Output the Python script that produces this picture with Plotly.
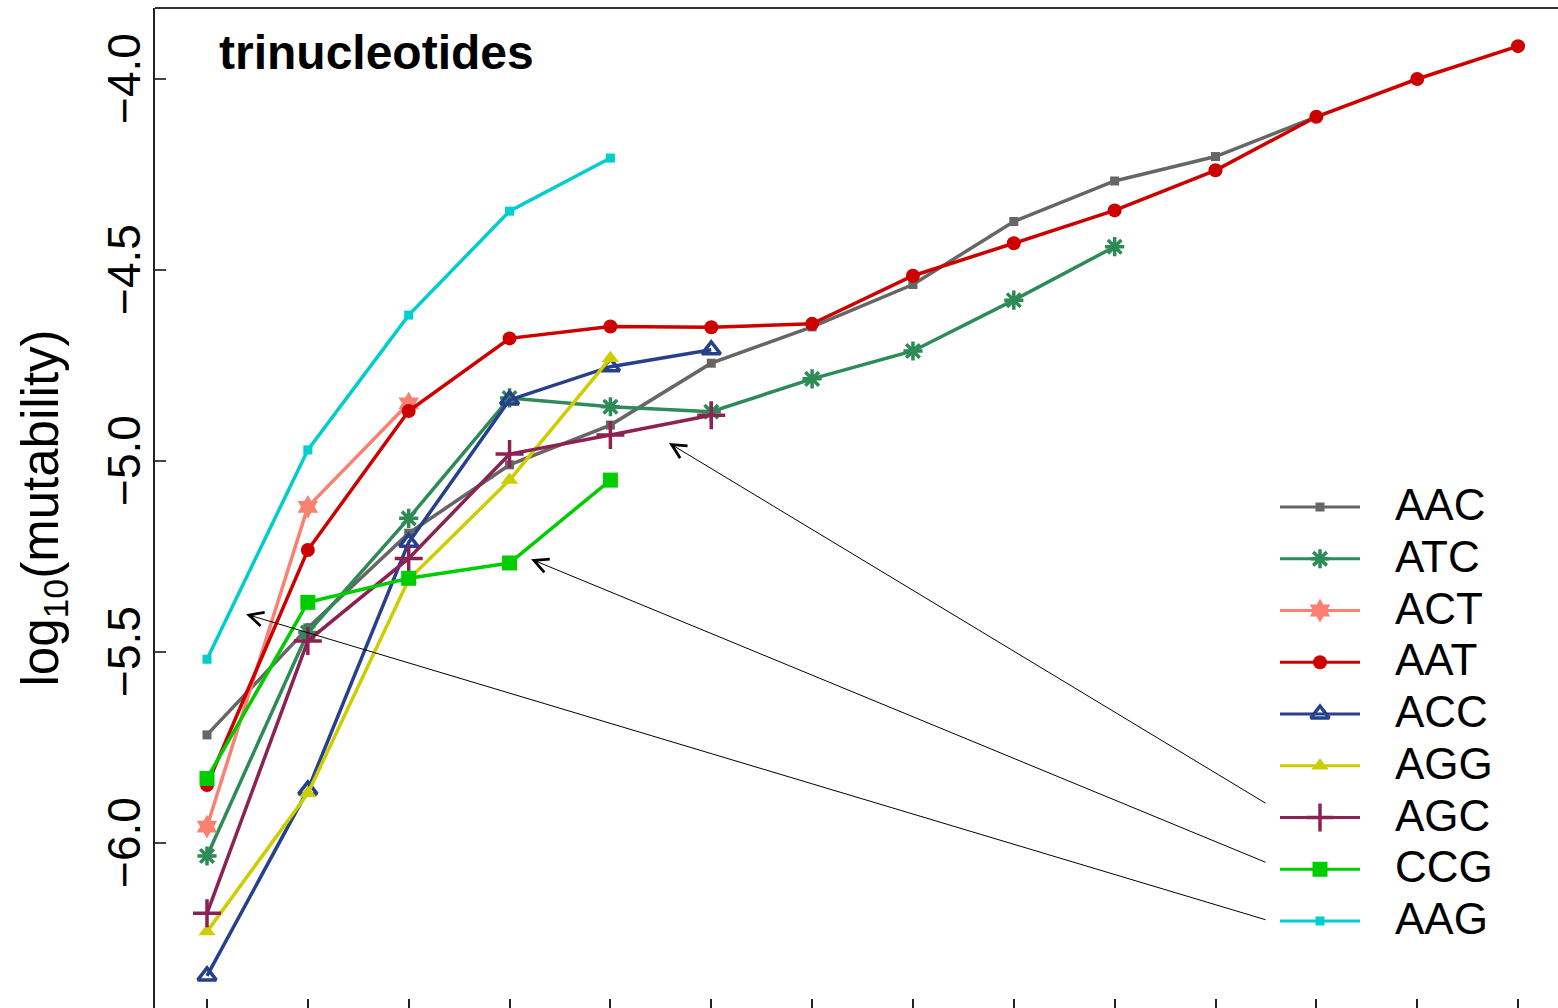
import plotly.graph_objects as go

# ---------------- data ----------------
names = ["AAC", "ATC", "ACT", "AAT", "ACC", "AGG", "AGC", "CCG", "AAG"]

AAC = [-5.717, -5.437, -5.189, -5.010, -4.906, -4.744, -4.649, -4.538, -4.373, -4.267, -4.203, -4.099]
ATC = [-6.034, -5.449, -5.150, -4.835, -4.858, -4.871, -4.785, -4.712, -4.579, -4.439]
ACT = [-5.957, -5.120, -4.849]
AAT = [-5.848, -5.233, -4.869, -4.679, -4.648, -4.650, -4.641, -4.515, -4.430, -4.344,
       -4.239, -4.099, -4.000, -3.914]
ACC = [-6.348, -5.861, -5.213, -4.840, -4.753, -4.709]
AGG = [-6.232, -5.870, -5.310, -5.050, -4.731]
AGC = [-6.184, -5.471, -5.255, -4.982, -4.932, -4.880]
CCG = [-5.831, -5.370, -5.307, -5.267, -5.050]
AAG = [-5.519, -4.971, -4.618, -4.346, -4.207]

series = [AAC, ATC, ACT, AAT, ACC, AGG, AGC, CCG, AAG]

y_ticks = [-6.0, -5.5, -5.0, -4.5, -4.0]
y_tick_labels = ["\u22126.0", "\u22125.5", "\u22125.0", "\u22124.5", "\u22124.0"]
x_ticks = list(range(1, 15))

# arrows: (head_x, head_y, tail_x, tail_y) in data units
arrows = [
    (5.581, -4.953, 11.511, -5.898),
    (4.213, -5.257, 11.511, -6.052),
    (1.387, -5.401, 11.511, -6.202),
]

# ---------------- styles ----------------
colors = ["#666666", "#2E8B57", "#FA8072", "#CD0000", "#27408B",
          "#CDCD00", "#8B2252", "#00CD00", "#00CDCD"]
symbols = ["square", "asterisk-open", "hexagram", "circle", "triangle-up-open",
           "triangle-up", "cross-thin-open", "square", "square"]
sizes = [9, 16, 18, 14, 16, 15, 20, 15, 9]
FONT = "Liberation Sans, Arial, Helvetica, sans-serif"
LW = 3.5

W, H = 1558, 1008
ML, MT = 155, 8

fig = go.Figure()

for name, vals, c, sym, sz in zip(names, series, colors, symbols, sizes):
    fig.add_trace(go.Scatter(
        x=list(range(1, len(vals) + 1)), y=vals, name=name,
        mode="lines+markers",
        line=dict(color=c, width=LW),
        marker=dict(symbol=sym, size=sz, color=c,
                    line=dict(color=c, width=3.5 if "open" in sym else 0)),
        showlegend=False,
    ))

# ---------------- manual legend (overlay pixel axes) ----------------
leg_y0, leg_dy = 507, 51.75
rows = [leg_y0 + i * leg_dy for i in range(len(names))]
for name, r, c, sym, sz in zip(names, rows, colors, symbols, sizes):
    fig.add_trace(go.Scatter(
        x=[1280, 1320, 1360], y=[r, r, r], xaxis="x2", yaxis="y2",
        mode="lines+markers", line=dict(color=c, width=3),
        marker=dict(symbol=sym, size=sz, color=c, opacity=[0, 1, 0],
                    line=dict(color=c, width=3.5 if "open" in sym else 0)),
        showlegend=False, hoverinfo="skip",
    ))
fig.add_trace(go.Scatter(
    x=[1395] * len(names), y=[r + 2 for r in rows], xaxis="x2", yaxis="y2",
    mode="text", text=names, textposition="middle right",
    textfont=dict(family=FONT, size=44, color="black"),
    showlegend=False, hoverinfo="skip",
))

# ---------------- arrows ----------------
for hx, hy, tx, ty in arrows:
    fig.add_annotation(
        x=hx, y=hy, ax=tx, ay=ty, xref="x", yref="y", axref="x", ayref="y",
        text="", showarrow=True, arrowhead=5, arrowsize=2.8, arrowwidth=1,
        arrowcolor="black", standoff=0,
    )

# title inside plot
fig.add_annotation(
    x=(217 - ML) / (W - ML), y=1 - (52 - MT) / (H - MT), xref="paper", yref="paper",
    text="<b>trinucleotides</b>", showarrow=False, xanchor="left", yanchor="middle",
    font=dict(family=FONT, size=48, color="black"),
)

# top border
fig.add_shape(type="line", xref="paper", yref="paper", x0=0, x1=1, y0=1, y1=1,
              line=dict(color="#333333", width=2))

x_lo = 1 + (ML - 207) / 100.85
x_hi = 1 + (W - 207) / 100.85
y_hi = -4 + (79 - MT) / 382
y_lo = -4 - (H - 79) / 382

fig.update_layout(
    width=W, height=H,
    margin=dict(l=ML, r=0, t=MT, b=0, autoexpand=False),
    paper_bgcolor="white", plot_bgcolor="white",
    font=dict(family=FONT, color="black"),
    xaxis=dict(range=[x_lo, x_hi], tickvals=x_ticks, showticklabels=False,
               ticks="inside", ticklen=9, tickwidth=1.5, tickcolor="#222222",
               showgrid=False, zeroline=False, showline=False),
    yaxis=dict(range=[y_lo, y_hi], tickvals=y_ticks,
               ticktext=[t + "\u00a0" for t in y_tick_labels],
               ticks="inside", ticklen=11, tickwidth=1.5, tickcolor="#444444",
               tickangle=-90, ticklabelstandoff=-5,
               tickfont=dict(family=FONT, size=46, color="black"),
               showgrid=False, zeroline=False,
               showline=True, linecolor="#222222", linewidth=2,
               title=dict(text="log<sub>10</sub>(mutability)", standoff=23,
                          font=dict(family=FONT, size=51, color="black"))),
    xaxis2=dict(overlaying="x", range=[ML, W], visible=False, anchor="y2"),
    yaxis2=dict(overlaying="y", range=[H, MT], visible=False, anchor="x2"),
)

fig.write_html("out.html")
